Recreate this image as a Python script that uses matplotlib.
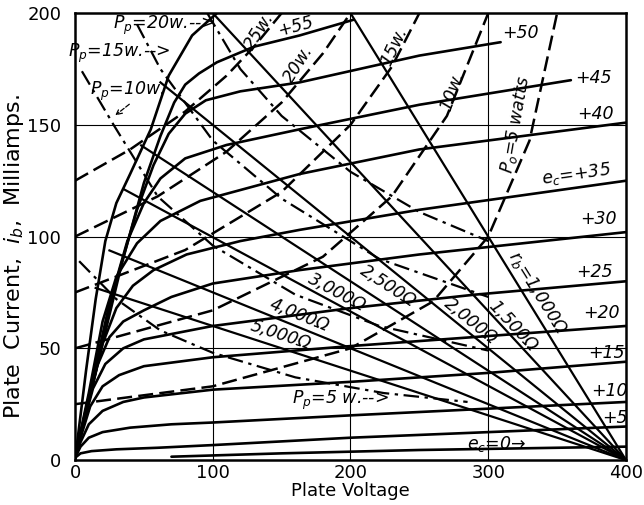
import numpy as np
import matplotlib.pyplot as plt

# plate characteristics, grid volts -> (plate volts, plate mA)
ec_labels = ['0', '+5', '+10', '+15', '+20', '+25', '+30', '+35', '+40', '+45', '+50', '+55']
ec_v = [
    [70, 150, 250, 400],
    [0, 4, 12, 30, 60, 100, 200, 300, 400],
    [0, 4, 10, 20, 40, 70, 100, 200, 300, 400],
    [0, 4, 10, 20, 35, 50, 100, 200, 300, 400],
    [0, 5, 11, 20, 32, 50, 100, 200, 300, 400],
    [0, 6, 13, 22, 35, 50, 100, 200, 290, 400],
    [0, 8, 16, 25, 35, 50, 70, 100, 163, 250, 400],
    [0, 10, 20, 30, 42, 57, 81, 120, 163, 250, 400],
    [0, 10, 20, 30, 45, 62, 91, 163, 250, 400],
    [0, 12, 25, 38, 50, 62, 80, 110, 163, 250, 360],
    [0, 14, 30, 45, 57, 68, 80, 95, 120, 163, 250, 309],
    [0, 16, 34, 50, 62, 72, 80, 90, 103, 130, 163, 202],
]
ec_i = [
    [1.5, 3, 4.5, 6],
    [1, 3, 4, 4.8, 5.5, 6.7, 10, 12.5, 15],
    [1, 6, 10, 12.5, 14.5, 16, 16.8, 20, 23, 26],
    [1, 8, 16, 22, 26, 28, 31.5, 35, 39, 44],
    [1, 12, 24, 33, 38, 42, 46, 51, 55.5, 60],
    [1, 16, 32, 43, 50, 54, 60, 68, 74, 80],
    [1, 22, 42, 55, 62, 67, 73, 79, 85, 92, 102],
    [1, 26, 52, 68, 78, 85, 92, 98, 103, 112, 125],
    [1, 30, 62, 82, 97, 107, 116, 128, 139, 151],
    [1, 34, 70, 98, 115, 126, 135, 141, 148, 159, 170],
    [1, 38, 80, 112, 132, 146, 155, 161, 165, 169, 181, 187],
    [1, 42, 88, 124, 145, 160, 168, 173, 178, 185, 190, 197],
]

# steep limiting curve on the left
env_v = [0, 8, 15, 22, 30, 40, 55, 68, 85, 103]
env_i = [0, 40, 72, 98, 115, 128, 148, 172, 190, 200]

# load lines from 400 V, start point on the left
rb_labels = ['$r_b$=1,000Ω', '1,500Ω', '2,000Ω', '2,500Ω', '3,000Ω', '4,000Ω', '5,000Ω']
rb_v0 = [200, 100, 62, 48, 36, 25, 15]
rb_i0 = [200, 200, 169, 140.8, 121, 93.8, 77]
rb_v1 = [400, 400, 400, 400, 400, 400, 400]
rb_i1 = [0, 0, 0, 0, 0, 0, 0]

# power output curves (dashed)
po_labels = ['25w.', '20w.', '15w.', '10w.', '$P_o$=5 watts']
po_v = [
    [0, 40, 80, 110, 130, 150],
    [0, 60, 110, 150, 180, 200],
    [0, 80, 150, 200, 230, 250],
    [0, 100, 180, 230, 270, 300],
    [0, 100, 200, 260, 300, 330, 350],
]
po_i = [
    [125, 139, 156, 172, 185, 200],
    [100, 118, 138, 160, 182, 200],
    [75, 94, 120, 150, 176, 200],
    [50, 67, 91, 118, 154, 200],
    [25, 33, 50, 71, 100, 143, 200],
]

# plate dissipation curves (dash-dot)
pp_v = [
    [96, 120, 150, 200, 250, 300],
    [45, 62, 100, 150, 221, 300],
    [5, 28, 60, 100, 160, 221, 300],
    [3, 30, 62, 100, 160, 224, 285],
]
pp_i = [
    [200, 175, 154, 129, 111, 98],
    [195, 175, 143, 117, 90, 73],
    [174, 150, 118, 96, 74, 60, 49],
    [89, 72, 58, 48, 37, 30, 26],
]

fig = plt.figure(figsize=(6.44, 5.05), dpi=100)
ax = fig.add_axes([0.1165, 0.089, 0.8555, 0.885])
ax.set_xlim(0, 400)
ax.set_ylim(0, 200)

lw = 1.9
for v, i in zip(ec_v, ec_i):
    ax.plot(v, i, color='black', lw=lw, solid_capstyle='round', solid_joinstyle='round')
ax.plot(env_v, env_i, color='black', lw=lw, solid_joinstyle='round')
for k in range(len(rb_v0)):
    ax.plot([rb_v0[k], rb_v1[k]], [rb_i0[k], rb_i1[k]], color='black', lw=1.6)
for v, i in zip(po_v, po_i):
    ax.plot(v, i, color='black', lw=1.8, dashes=(6, 2.5))
for v, i in zip(pp_v, pp_i):
    ax.plot(v, i, color='black', lw=1.6, dashes=(7, 2.5, 1.5, 2.5))

for g in [100, 200, 300]:
    ax.axvline(g, color='black', lw=0.8)
for g in [50, 100, 150]:
    ax.axhline(g, color='black', lw=0.8)

ax.set_xticks([0, 100, 200, 300, 400])
ax.set_yticks([0, 50, 100, 150, 200])
ax.tick_params(length=0, labelsize=13, pad=3)
ax.tick_params(axis='y', pad=10)
for s in ax.spines.values():
    s.set_linewidth(1.8)
ax.set_xlabel('Plate Voltage', fontsize=13, labelpad=0)
ax.set_ylabel('Plate  Current,  $i_b$,  Milliamps.', fontsize=16)
ax.yaxis.set_label_coords(-0.089, 0.455)

t = dict(color='black', style='italic', fontsize=12.5, ha='center', va='center')
# grid voltage labels
ax.text(323, 191, '+50', **t)
ax.text(376, 171, '+45', **t)
ax.text(378, 155, '+40', **t)
ax.text(364, 128, '$e_c$=+35', rotation=8, **t)
ax.text(380, 108, '+30', **t)
ax.text(377, 84, '+25', **t)
ax.text(382, 66, '+20', **t)
ax.text(386, 48, '+15', **t)
ax.text(388, 31, '+10', **t)
ax.text(392, 19, '+5', **t)
ax.text(160, 194, '+55', rotation=15, **t)
ax.text(306, 7, '$e_c$=0→', **t)

# output power labels
po_tx = [134, 162, 232, 274, 320]
po_ty = [192, 177, 185, 165, 150]
po_rot = [58, 58, 65, 70, 80]
for k in range(len(po_labels)):
    ax.text(po_tx[k], po_ty[k], po_labels[k], rotation=po_rot[k], **t)

# load line labels
rb_tx = [336, 318, 287, 227, 190, 163, 149]
rb_ty = [75, 60, 62, 78, 75, 65, 56]
rb_rot = [-58, -47, -39, -33, -28, -22, -18]
for k in range(len(rb_labels)):
    ax.text(rb_tx[k], rb_ty[k], rb_labels[k], rotation=rb_rot[k], **t)

# plate dissipation labels
ax.text(65, 194.5, '$P_p$=20w.-->', **t)
ax.text(32, 182, '$P_p$=15w.-->', **t)
ax.text(38, 165, '$P_p$=10w.', **t)
ax.annotate('', xy=(27.6, 153.5), xytext=(41, 160),
            arrowprops=dict(arrowstyle='->', ls='--', color='black', lw=0.9))
ax.text(193, 26.5, '$P_p$=5 w.-->', **t)

fig.savefig('out.png', dpi=100)
